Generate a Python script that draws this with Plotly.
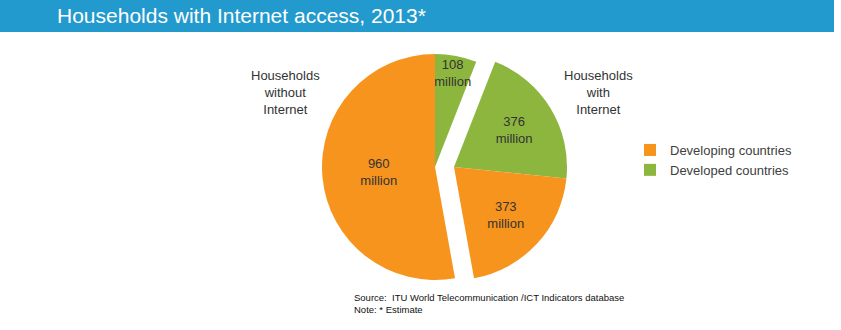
import plotly.graph_objects as go

# Households (millions), clockwise from 12 o'clock
segments = ["Developed, without", "Developed, with", "Developing, with", "Developing, without"]
values = [108, 376, 373, 960]
groups = ["without", "with", "with", "without"]
series = ["Developed countries", "Developed countries", "Developing countries", "Developing countries"]
group_labels = {"without": "Households<br>without<br>Internet", "with": "Households<br>with<br>Internet"}

colors = {"Developing countries": "#F7941D", "Developed countries": "#8DB63F"}
CLEAR = "rgba(0,0,0,0)"
FONT = "Liberation Sans, Arial, sans-serif"

W, H = 841, 330
R = 113            # pie radius, px
CX, CY = 435, 167  # centre of the main piece, px
DX, DY = 19, 0     # offset of the exploded "with Internet" piece, px


def domain(cx, cy):
    return dict(x=[(cx - R) / W, (cx + R) / W],
                y=[1 - (cy + R) / H, 1 - (cy - R) / H])


fig = go.Figure()
for grp, (cx, cy) in (("without", (CX, CY)), ("with", (CX + DX, CY + DY))):
    fig.add_trace(go.Pie(
        labels=segments,
        values=values,
        sort=False,
        direction="clockwise",
        rotation=0,
        domain=domain(cx, cy),
        marker=dict(colors=[colors[s] if g == grp else CLEAR for s, g in zip(series, groups)],
                    line=dict(width=0)),
        text=[f"{v}<br>million" if g == grp else "" for v, g in zip(values, groups)],
        textinfo="text",
        textposition="inside",
        insidetextorientation="horizontal",
        textfont=dict(family=FONT, size=13, color="#333333"),
        hoverinfo="skip",
        showlegend=False,
    ))

# legend entries
for name in ["Developing countries", "Developed countries"]:
    fig.add_trace(go.Scatter(x=[None], y=[None], mode="markers", name=name,
                             marker=dict(symbol="square", size=9, color=colors[name])))

annotations = [
    dict(x=55 / W, y=1 - 16 / H, xref="paper", yref="paper", xanchor="left", yanchor="middle",
         text="Households with Internet access, 2013*", showarrow=False,
         font=dict(family=FONT, size=21, color="white")),
    dict(x=285 / W, y=1 - 92 / H, xref="paper", yref="paper", xanchor="center", yanchor="middle",
         text=group_labels["without"], showarrow=False,
         font=dict(family=FONT, size=13, color="#333333")),
    dict(x=598 / W, y=1 - 92 / H, xref="paper", yref="paper", xanchor="center", yanchor="middle",
         text=group_labels["with"], showarrow=False,
         font=dict(family=FONT, size=13, color="#333333")),
    dict(x=352 / W, y=1 - 303 / H, xref="paper", yref="paper", xanchor="left", yanchor="middle",
         text="Source:  ITU World Telecommunication /ICT Indicators database<br>Note: * Estimate",
         align="left", showarrow=False,
         font=dict(family="Liberation Sans Narrow, Liberation Sans, Arial, sans-serif", size=9.5, color="#111111")),
]

fig.update_layout(
    width=W, height=H,
    margin=dict(l=0, r=0, t=0, b=0),
    paper_bgcolor="white", plot_bgcolor="white",
    xaxis=dict(visible=False), yaxis=dict(visible=False),
    uniformtext=dict(minsize=13, mode="show"),
    shapes=[dict(type="rect", xref="paper", yref="paper", x0=0, x1=834 / W, y0=1 - 32 / H, y1=1,
                 fillcolor="#239ACD", line=dict(width=0), layer="below")],
    annotations=annotations,
    legend=dict(x=630 / W, y=1 - 135 / H, xanchor="left", yanchor="top",
                bgcolor="rgba(0,0,0,0)", tracegroupgap=0, itemsizing="constant",
                font=dict(family=FONT, size=13, color="#404040")),
)

fig.write_html("out.html")
